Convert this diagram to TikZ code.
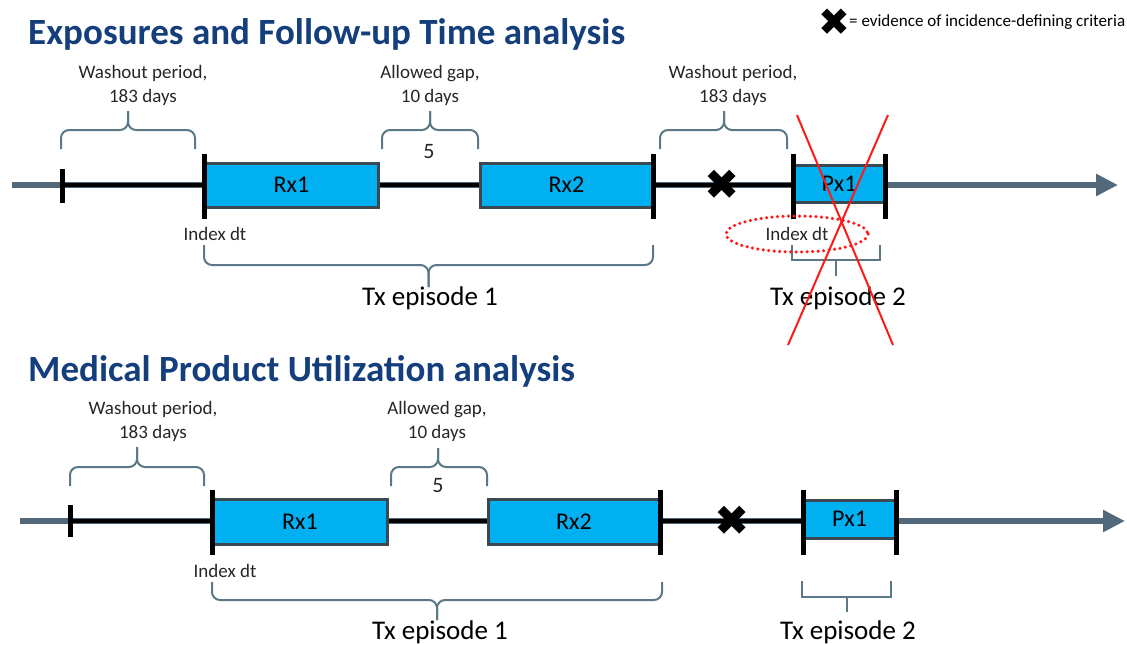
\documentclass[tikz,border=0pt]{standalone}
\usepackage{fontspec}
\setmainfont{Carlito}
\newfontfamily\symfont{DejaVu Sans}
\usetikzlibrary{arrows.meta}

\definecolor{axisgray}{HTML}{51697A}
\definecolor{bracegray}{HTML}{5B7886}
\definecolor{rxfill}{HTML}{00B0F0}
\definecolor{rxedge}{HTML}{3B4A52}
\definecolor{titleblue}{HTML}{143F7C}
\definecolor{strike}{HTML}{FF1A1A}

\tikzset{
  axis/.style={draw=axisgray, line width=6pt, -{Triangle[length=22pt, width=21pt]}},
  period/.style={draw=black, line width=3.5pt},
  tick/.style={draw=black, line width=5pt},
  rxbox/.style={draw=rxedge, fill=rxfill, line width=3pt, inner sep=0pt,
    font=\fontsize{24}{26}\selectfont},
  brace/.style={draw=bracegray, line width=2pt, rounded corners=8pt},
  bracket/.style={draw=bracegray, line width=2pt},
  label/.style={inner sep=0pt, align=center, font=\fontsize{19}{24}\selectfont, text=black!85},
  episode/.style={inner sep=0pt, font=\fontsize{27}{30}\selectfont},
  title/.style={inner sep=0pt, anchor=west, text=titleblue,
    font=\bfseries\fontsize{37}{40}\selectfont},
  event/.style={inner sep=0pt, font=\symfont\fontsize{42}{42}\selectfont},
  crossout/.style={draw=strike, line width=2pt},
  notindex/.style={draw=strike, line width=3.5pt, dash pattern=on 0pt off 5.5pt, line cap=round}
}

% curly brace: two halves from the ends to the tip
\newcommand{\curlybrace}[6]{% x1, x2, yend, ymid, xtip, ytip
  \draw[brace] (#1,#3) |- (#5,#4) -- (#5,#6);
  \draw[brace] (#2,#3) |- (#5,#4) -- (#5,#6);
}

\begin{document}
\begin{tikzpicture}[x=1pt, y=-1pt]
\useasboundingbox (0,0) rectangle (1127,645);

% ---------- legend ----------
\node[event, font=\symfont\fontsize{38}{38}\selectfont] (legx) at (834,22) {✖};
\node[inner sep=0pt, anchor=west, font=\fontsize{17}{18}\selectfont] (legt) at (849,22)
  {= evidence of incidence-defining criteria};

% ---------- Exposures and Follow-up Time analysis ----------
\node[title] (t1) at (28,34) {Exposures and Follow-up Time analysis};

\coordinate (a1s) at (12,185);
\coordinate (a1e) at (1118,185);
\draw[axis] (a1s) -- (a1e);

\coordinate (w1) at (62,185);
\coordinate (p1) at (793,185);
\draw[period] (w1) -- (p1);

\node[rxbox, minimum width=173pt, minimum height=44pt] (rx1a) at (291.5,185) {Rx1};
\node[rxbox, minimum width=173pt, minimum height=44pt] (rx2a) at (566.5,185) {Rx2};
\node[rxbox, minimum width=92pt, minimum height=37pt] (px1a) at (839,183.5) {Px1};

\draw[tick] (62,169) -- (62,203);
\draw[tick] (204,154) -- (204,219);
\draw[tick] (653,154) -- (653,219);
\draw[tick] (793,154) -- (793,219);
\draw[tick] (885,154) -- (885,219);

\node[event] (ev1) at (722,185) {✖};

\curlybrace{61}{195}{149}{130}{128}{111}
\curlybrace{382}{478}{149}{130}{430}{111}
\curlybrace{660}{787}{149}{130}{724}{111}
\curlybrace{204}{653}{245}{265}{428.5}{287}
\draw[bracket] (792,245) |- (880,260) -- (880,245);
\draw[bracket] (836,260) -- (836,276);

\node[label] (wl1) at (143,85) {Washout period,\\183 days};
\node[label] (gl1) at (430,85) {Allowed gap,\\10 days};
\node[label] (wl2) at (733,85) {Washout period,\\183 days};
\node[label, font=\fontsize{22}{24}\selectfont] (g1) at (429,152) {5};
\node[label] (ix1) at (215,234) {Index dt};
\node[label] (ix2) at (797,234) {Index dt};
\node[episode] (ep1a) at (430,298) {Tx episode 1};
\node[episode] (ep2a) at (838,298) {Tx episode 2};

\draw[notindex] (ix2) ellipse [x radius=71, y radius=18];
\draw[crossout] (797,115) -- (893,345);
\draw[crossout] (888,115) -- (788,345);

% ---------- Medical Product Utilization analysis ----------
\node[title] (t2) at (28,371) {Medical Product Utilization analysis};

\coordinate (a2s) at (20,521);
\coordinate (a2e) at (1125,521);
\draw[axis] (a2s) -- (a2e);

\coordinate (w2) at (70,521);
\coordinate (p2) at (803,521);
\draw[period] (w2) -- (p2);

\node[rxbox, minimum width=174pt, minimum height=45pt] (rx1b) at (300,521.5) {Rx1};
\node[rxbox, minimum width=172pt, minimum height=45pt] (rx2b) at (574,521.5) {Rx2};
\node[rxbox, minimum width=93pt, minimum height=38pt] (px1b) at (849.5,519) {Px1};

\draw[tick] (70,505) -- (70,537);
\draw[tick] (212,490) -- (212,555);
\draw[tick] (660,490) -- (660,555);
\draw[tick] (803,490) -- (803,555);
\draw[tick] (896,490) -- (896,555);

\node[event] (ev2) at (732,521) {✖};

\curlybrace{70}{204}{486}{467}{137}{447}
\curlybrace{391}{487}{486}{467}{438}{448}
\curlybrace{212}{662}{582}{600}{437}{620}
\draw[bracket] (802,581) |- (891,597) -- (891,581);
\draw[bracket] (847,597) -- (847,612);

\node[label] (wl3) at (153,421) {Washout period,\\183 days};
\node[label] (gl2) at (437,421) {Allowed gap,\\10 days};
\node[label, font=\fontsize{22}{24}\selectfont] (g2) at (438,486) {5};
\node[label] (ix3) at (225,571) {Index dt};
\node[episode] (ep1b) at (440,632) {Tx episode 1};
\node[episode] (ep2b) at (848,632) {Tx episode 2};

\end{tikzpicture}
\end{document}
